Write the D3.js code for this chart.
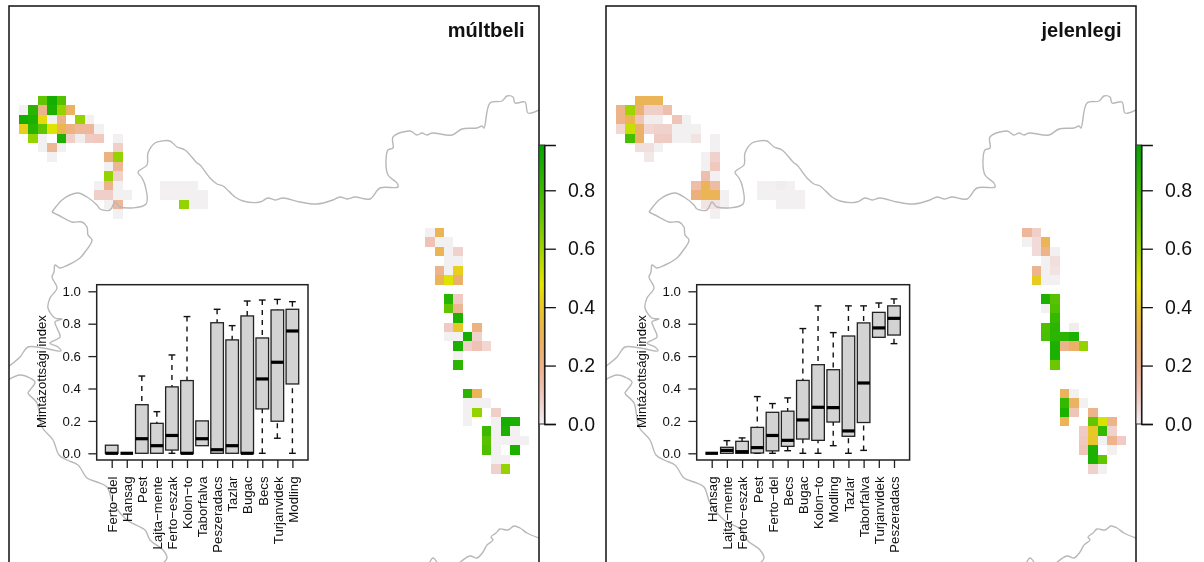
<!DOCTYPE html>
<html><head><meta charset="utf-8">
<script src="https://d3js.org/d3.v7.min.js"></script>
<style>html,body{margin:0;padding:0;background:#fff;overflow:hidden}svg{display:block;filter:blur(0.4px)}text{font-family:"Liberation Sans",Arial,sans-serif;fill:#111}</style>
</head><body><svg id="c" width="1204" height="562"></svg>
<script>
// Raster cells: [column, row, index value]
const pastCells=[
[2,0,.72],[3,0,.9],[4,0,.75],
[0,1,.005],[1,1,.85],[2,1,.2],[3,1,.88],[4,1,.62],[5,1,.28],
[0,2,.9],[1,2,.88],[2,2,.45],[3,2,.005],[4,2,.2],[6,2,.62],[7,2,.005],
[0,3,.42],[1,3,.85],[2,3,.72],[3,3,.49],[4,3,.32],[5,3,.22],[6,3,.17],[7,3,.17],[8,3,.005],
[1,4,.62],[2,4,.005],[4,4,.88],[5,4,.08],[6,4,.01],[7,4,.09],[8,4,.1],[10,4,.005],
[2,5,.005],[3,5,.18],[4,5,.005],[10,5,.08],
[3,6,.005],[9,6,.22],[10,6,.62],
[9,7,.005],[10,7,.18],
[9,8,.62],[10,8,.07],
[8,9,.005],[9,9,.2],[10,9,.005],[15,9,.005],[16,9,.005],[17,9,.005],[18,9,.005],
[8,10,.08],[9,10,.08],[10,10,.005],[11,10,.005],[15,10,.005],[16,10,.005],[17,10,.005],[18,10,.005],[19,10,.005],
[9,11,.005],[10,11,.17],[17,11,.62],[18,11,.005],[19,11,.005],
[10,12,.005],
[43,14,.005],[44,14,.3],
[43,15,.12],[44,15,.005],[45,15,.005],
[44,16,.31],[45,16,.005],[46,16,.07],
[45,17,.005],[46,17,.005],
[44,18,.2],[45,18,.005],[46,18,.42],
[44,19,.3],[45,19,.49],[46,19,.26],
[45,21,.85],[46,21,.09],
[45,22,.72],[46,22,.18],
[46,23,.88],
[45,24,.09],[46,24,.4],[48,24,.22],
[45,25,.005],[46,25,.005],[47,25,.9],[48,25,.07],
[46,26,.88],[47,26,.08],[48,26,.12],[49,26,.06],
[46,27,.005],
[46,28,.84],
[47,31,.84],[48,31,.3],
[47,32,.005],[48,32,.005],[49,32,.005],
[47,33,.005],[48,33,.62],[50,33,.08],
[47,34,.005],[50,34,.005],[51,34,.9],[52,34,.88],
[49,35,.8],[50,35,.005],[51,35,.88],[52,35,.005],
[49,36,.74],[50,36,.005],[51,36,.005],[52,36,.005],[53,36,.005],
[49,37,.76],[50,37,.005],[52,37,.88],
[50,38,.005],[51,38,.005],
[50,39,.07],[51,39,.62]];
const presentCells=[
[2,0,.3],[3,0,.3],[4,0,.3],
[0,1,.2],[1,1,.6],[2,1,.24],[3,1,.08],[4,1,.08],[5,1,.13],
[0,2,.2],[1,2,.31],[2,2,.11],[3,2,.01],[4,2,.01],[6,2,.11],[7,2,.005],
[0,3,.06],[1,3,.53],[2,3,.26],[3,3,.06],[4,3,.07],[5,3,.07],[6,3,.005],[7,3,.005],[8,3,.005],
[1,4,.78],[2,4,.27],[4,4,.09],[5,4,.09],[6,4,.005],[7,4,.005],[8,4,.03],[10,4,.005],
[2,5,.04],[3,5,.04],[4,5,.005],[10,5,.005],
[3,6,.02],[9,6,.005],[10,6,.07],
[9,7,.005],[10,7,.1],
[9,8,.13],[10,8,.005],
[8,9,.14],[9,9,.3],[10,9,.15],[15,9,.005],[16,9,.005],[17,9,.01],[18,9,.005],
[8,10,.23],[9,10,.31],[10,10,.3],[11,10,.005],[15,10,.005],[16,10,.005],[17,10,.005],[18,10,.005],[19,10,.005],
[9,11,.03],[10,11,.03],[11,11,.005],[17,11,.005],[18,11,.005],[19,11,.005],
[10,12,.005],
[43,14,.17],[44,14,.08],
[43,15,.005],[44,15,.05],[45,15,.3],
[44,16,.05],[45,16,.2],[46,16,.005],
[45,17,.005],[46,17,.04],
[44,18,.19],[45,18,.005],[46,18,.03],
[44,19,.41],[45,19,.005],[46,19,.005],
[45,21,.88],[46,21,.74],
[45,22,.005],[46,22,.76],
[46,23,.82],
[45,24,.76],[46,24,.84],[48,24,.01],
[45,25,.77],[46,25,.84],[47,25,.84],[48,25,.88],
[46,26,.88],[47,26,.2],[48,26,.27],[49,26,.62],
[46,27,.88],
[46,28,.7],
[47,31,.29],[48,31,.005],
[47,32,.82],[48,32,.28],[49,32,.005],
[47,33,.88],[48,33,.11],[50,33,.2],
[47,34,.3],[50,34,.72],[51,34,.5],[52,34,.2],
[49,35,.09],[50,35,.4],[51,35,.82],[52,35,.07],
[49,36,.1],[50,36,.39],[51,36,.005],[52,36,.19],[53,36,.09],
[49,37,.11],[50,37,.88],[52,37,.005],
[50,38,.88],[51,38,.72],
[50,39,.07],[51,39,.005]];

// Border of the region, in map units
const borderNorth=[[52,212],[55,208],[62,200],[70,195],[78,193],[87,197],[97,205],[100,209],[110,210],[115,202],[120,207],[146,204],[145,185],[142,178],[138,172],[147,165],[148,153],[155,143],[162,141],[170,141],[177,147],[185,150],[197,163],[200,165],[210,178],[217,184],[223,186],[235,197],[243,201],[260,202],[268,198],[275,200],[283,198],[300,202],[317,204],[333,200],[340,197],[347,199],[355,197],[370,199],[380,188],[398,187],[397,183],[388,175],[386,160],[388,150],[393,148],[393,137],[410,131],[417,135],[422,133],[427,135],[432,133],[452,135],[462,129],[477,128],[482,126],[484,128],[490,103],[502,101],[507,96],[513,97],[515,103],[525,102],[528,113],[539,110]];
const borderWest=[[52,212],[58,215],[72,222],[82,222],[87,227],[88,235],[92,240],[85,252],[80,258],[68,265],[60,268],[55,265],[54,272],[52,277],[57,288],[50,298],[48,308],[55,318],[62,319],[55,322],[57,328],[60,337],[50,343],[58,347],[61,351],[43,348],[28,347],[20,357],[8,367]];
const borderSouth=[[8,380],[20,375],[30,378],[35,382],[30,390],[28,393],[37,403],[42,427],[53,440],[59,455],[67,460],[78,465],[87,478],[97,482],[107,487],[113,503],[127,520],[145,530],[150,540],[163,550],[167,558],[162,564]];
const borderEast=[[539,538],[527,533],[520,528],[514,526],[508,530],[500,529],[496,533],[491,537],[493,540],[487,545],[483,552],[477,558],[470,556],[458,564]];
const borderBump=[[429,564],[433,558],[438,564]];
const borders=[borderNorth,borderWest,borderSouth,borderEast,borderBump];

const legendTicks=[0,.2,.4,.6,.8];
const legendMax=.955;

// Boxplot of the past period
const pastSites=["Ferto−del","Hansag","Pest","Lajta−mente","Ferto−eszak","Kolon−to","Taborfalva","Peszeradacs","Tazlar","Bugac","Becs","Turjanvidek","Modling"];
const pastLow=[0,0,0,0,0,0,.047,0,0,0,0,.093,0];
const pastQ1=[0,0,0,0,.02,0,.047,0,0,0,.274,.198,.428];
const pastMedian=[0,0,.09,.047,.11,0,.09,.022,.047,0,.459,.562,.755];
const pastQ3=[.05,0,.3,.185,.41,.449,.2,.806,.7,.848,.712,.885,.889];
const pastHigh=[.05,0,.477,.257,.607,.844,.2,.889,.788,.94,.946,.95,.936];
// Boxplot of the present period
const presentSites=["Hansag","Lajta−mente","Ferto−eszak","Pest","Ferto−del","Becs","Bugac","Kolon−to","Modling","Tazlar","Taborfalva","Turjanvidek","Peszeradacs"];
const presentLow=[0,0,0,0,0,.016,0,0,.047,0,.018,.716,.677];
const presentQ1=[0,0,0,.002,.015,.043,.088,.08,.193,.105,.19,.716,.73];
const presentMedian=[0,.018,.01,.035,.11,.08,.206,.284,.282,.138,.434,.774,.833];
const presentQ3=[0,.037,.074,.16,.253,.26,.45,.547,.516,.724,.805,.87,.91];
const presentHigh=[0,.078,.095,.35,.307,.342,.77,.91,.745,.91,.91,.928,.953];
const axisTicks=[0,.2,.4,.6,.8,1];

// R terrain.colors, reversed: interpolated in HSV
function hsv(h,s,v){const i=Math.floor(h*6),f=h*6-i,p=v*(1-s),q=v*(1-f*s),t=v*(1-(1-f)*s);
 const [r,g,b]=[[v,t,p],[q,v,p],[p,v,t],[p,q,v],[t,p,v],[v,p,q]][i%6];return d3.rgb(r*255,g*255,b*255).formatHex();}
const terrain=t=>t<.5?hsv(t/3,t*2,.95-.1*t):hsv(1/6+(t-.5)/3,1,.9-.5*(t-.5));
const color=d3.scaleSequential(terrain).domain([0,legendMax]);

const svg=d3.select("#c");
const defs=svg.append("defs");
const grad=defs.append("linearGradient").attr("id","bar").attr("x1",0).attr("x2",0).attr("y1",1).attr("y2",0);
d3.range(0,1.001,.05).forEach(t=>grad.append("stop").attr("offset",t).attr("stop-color",terrain(t)));

const mapW=530,frameTop=6,legendBase=424,legendH=279;
function panel(opts){
 const dx=opts.dx,left=9+dx,right=539+dx;
 const clipId="clip"+dx;
 defs.append("clipPath").attr("id",clipId).append("rect").attr("x",left).attr("y",frameTop).attr("width",mapW).attr("height",570);
 const g=svg.append("g");
 const mapX=d3.scaleLinear().domain([9,539]).range([left,right]);
 const mapY=d3.scaleLinear().domain([6,562]).range([6,562]);
 const colX=d3.scaleLinear().domain([0,1]).range([18.7+dx,28.15+dx]);
 const rowY=d3.scaleLinear().domain([0,1]).range([95.7,105.15]);
 const line=d3.line().x(d=>mapX(d[0])).y(d=>mapY(d[1])).curve(d3.curveCatmullRom.alpha(.5));
 const m=g.append("g").attr("clip-path",`url(#${clipId})`);
 m.selectAll("rect.c").data(opts.cells).join("rect").attr("class","c")
  .attr("x",d=>colX(d[0])).attr("y",d=>rowY(d[1]))
  .attr("width",colX(1)-colX(0)).attr("height",rowY(1)-rowY(0))
  .attr("fill",d=>color(d[2])).attr("shape-rendering","crispEdges");
 m.selectAll("path.b").data(borders).join("path").attr("class","b").attr("d",line)
  .attr("fill","none").attr("stroke","#b8b8b8").attr("stroke-width",1.4);
 // frame (bottom edge lies below the window)
 g.append("rect").attr("x",left).attr("y",frameTop).attr("width",mapW).attr("height",600)
  .attr("fill","none").attr("stroke","#111").attr("stroke-width",1.5);
 g.append("text").attr("x",right-14.5).attr("y",37).attr("text-anchor","end")
  .attr("font-size",20).attr("font-weight","bold").text(opts.title);

 // colour bar
 const lY=d3.scaleLinear().domain([0,legendMax]).range([legendBase,legendBase-legendH]);
 g.append("rect").attr("x",right).attr("y",lY(legendMax)).attr("width",5.4).attr("height",legendH)
  .attr("fill","url(#bar)").attr("stroke","#333").attr("stroke-width",1);
 const la=g.append("g").attr("transform",`translate(${right+5.4},0)`)
  .call(d3.axisRight(lY).tickValues(legendTicks).tickSize(11.5).tickPadding(12).tickFormat(d3.format(".1f")));
 la.select(".domain").attr("stroke","#111").attr("stroke-width",1.3);
 la.selectAll("line").attr("stroke","#111").attr("stroke-width",1.3);
 la.selectAll("text").attr("font-size",19.5).attr("font-family","Liberation Sans").attr("fill","#111");

 // inset boxplot
 const n=opts.sites.length,ix0=opts.ix0,ix1=opts.ix1;
 const x=d3.scaleLinear().domain([1,n]).range([ix0,ix1]);
 const y=d3.scaleLinear().domain([0,1]).range([453.3,291.3]);
 const b=g.append("g");
 const fL=x(1)-15,fR=x(n)+15.6,fT=284.7,fB=460;
 b.append("rect").attr("x",fL).attr("y",fT).attr("width",fR-fL).attr("height",fB-fT)
  .attr("fill","#fff").attr("stroke","#222").attr("stroke-width",1.5);
 const ya=b.append("g").attr("transform",`translate(${fL},0)`)
  .call(d3.axisLeft(y).tickValues(axisTicks).tickSize(8.3).tickPadding(7.5).tickFormat(d3.format(".1f")));
 ya.select(".domain").remove();
 ya.selectAll("line").attr("stroke","#222").attr("stroke-width",1.3);
 ya.selectAll("text").attr("font-size",13.2).attr("font-family","Liberation Sans").attr("fill","#111");
 const xa=b.append("g").attr("transform",`translate(0,${fB})`)
  .call(d3.axisBottom(x).tickValues(d3.range(1,n+1)).tickSize(8).tickFormat(i=>opts.sites[i-1]));
 xa.select(".domain").remove();
 xa.selectAll("line").attr("stroke","#222").attr("stroke-width",1.3);
 xa.selectAll("text").attr("font-size",13.2).attr("font-family","Liberation Sans").attr("fill","#111")
  .attr("text-anchor","end").attr("transform","rotate(-90)").attr("x",-16.5).attr("y",0).attr("dy",".36em").attr("dx",0);
 b.append("text").attr("transform",`translate(${fL-50.5},371.5) rotate(-90)`).attr("text-anchor","middle")
  .attr("font-size",13.2).attr("fill","#111").text("Mintázottsági index");
 const rows=opts.sites.map((s,i)=>({i:i+1,lo:opts.low[i],q1:opts.q1[i],med:opts.median[i],q3:opts.q3[i],hi:opts.high[i]}));
 const w=6.3,cap=3.4;
 const box=b.selectAll("g.box").data(rows).join("g").attr("class","box");
 [["hi","q3"],["lo","q1"]].forEach(([a,c])=>{
  box.filter(d=>d[a]!==d[c]).append("line").attr("x1",d=>x(d.i)).attr("x2",d=>x(d.i)).attr("y1",d=>y(d[a])).attr("y2",d=>y(d[c]))
   .attr("stroke","#111").attr("stroke-width",1.4).attr("stroke-dasharray","5 5");
  box.filter(d=>d[a]!==d[c]).append("line").attr("x1",d=>x(d.i)-cap).attr("x2",d=>x(d.i)+cap).attr("y1",d=>y(d[a])).attr("y2",d=>y(d[a]))
   .attr("stroke","#111").attr("stroke-width",1.4);
 });
 box.append("rect").attr("x",d=>x(d.i)-w).attr("width",2*w).attr("y",d=>y(d.q3)).attr("height",d=>y(d.q1)-y(d.q3))
  .attr("fill","#d3d3d3").attr("stroke","#222").attr("stroke-width",1.3);
 box.append("line").attr("x1",d=>x(d.i)-w).attr("x2",d=>x(d.i)+w).attr("y1",d=>y(d.med)).attr("y2",d=>y(d.med))
  .attr("stroke","#000").attr("stroke-width",3.2);
}
panel({dx:0,title:"múltbeli",cells:pastCells,sites:pastSites,low:pastLow,q1:pastQ1,median:pastMedian,q3:pastQ3,high:pastHigh,ix0:111.7,ix1:292.4});
panel({dx:597,title:"jelenlegi",cells:presentCells,sites:presentSites,low:presentLow,q1:presentQ1,median:presentMedian,q3:presentQ3,high:presentHigh,ix0:711.7,ix1:894});
</script></body></html>
